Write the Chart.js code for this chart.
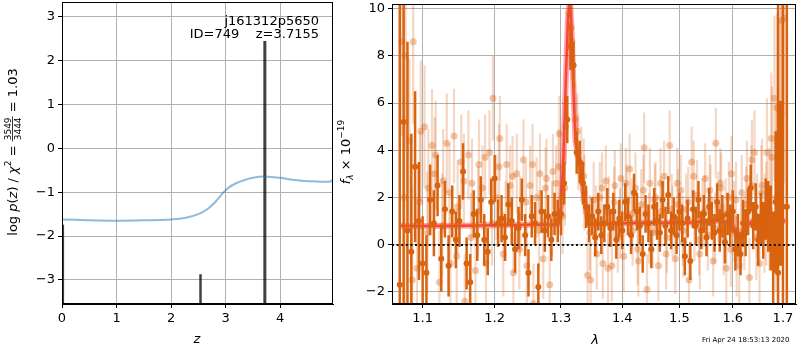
<!DOCTYPE html>
<html>
<head>
<meta charset="utf-8">
<script src="https://cdn.jsdelivr.net/npm/chart.js@4.4.0/dist/chart.umd.min.js"></script>
<style>
  body { margin: 0; background: #fff; width: 800px; height: 350px; position: relative; overflow: hidden; }
  #pzChart { position: absolute; left: 0; top: 0; }
  #specChart { position: absolute; left: 330px; top: 0; }
</style>
</head>
<body>
<canvas id="pzChart" width="340" height="350"></canvas>
<canvas id="specChart" width="470" height="350"></canvas>

<script>
// redshift probability curve
const zGrid  = [0, 0.25, 0.5, 1, 1.5, 2, 2.25, 2.5, 2.65, 2.8, 2.95, 3.05, 3.2, 3.35, 3.5, 3.7, 3.85, 4, 4.2, 4.4, 4.6, 4.8, 4.9, 4.97];
const logPz  = [-1.62, -1.63, -1.64, -1.65, -1.64, -1.62, -1.59, -1.5, -1.4, -1.24, -1.02, -0.9, -0.79, -0.72, -0.67, -0.64, -0.65, -0.67, -0.71, -0.74, -0.75, -0.76, -0.76, -0.72];
// individual fit peaks
const peakZ   = [0.02, 2.54, 3.72];
const peakTop = [-1.74, -2.87, 2.45];
const peakWidth = [2, 2.5, 3];

const zTicks  = [0, 1, 2, 3, 4];
const pzTicks = [-3, -2, -1, 0, 1, 2, 3];

// 1D spectrum, binned
const lamDark = [1.070,1.075,1.080,1.085,1.090,1.095,1.100,1.105,1.110,1.115,1.120,1.125,1.130,1.135,1.140,1.145,1.150,1.155,1.160,1.165,1.170,1.175,1.180,1.185,1.190,1.195,
  1.200,1.205,1.210,1.215,1.220,1.225,1.230,1.235,1.240,1.245,1.250,1.255,1.260,1.265,1.270,1.275,1.280,1.285,1.290,1.295,
  1.300,1.305,1.310,1.315,1.320,1.325,1.330,1.335,1.340,1.345,1.350,1.355,1.360,1.365,1.370,1.375,1.380,1.385,1.390,1.395,
  1.400,1.405,1.410,1.415,1.420,1.425,1.430,1.435,1.440,1.445,1.450,1.455,1.460,1.465,1.470,1.475,1.480,1.485,1.490,1.495,
  1.500,1.505,1.510,1.515,1.520,1.525,1.530,1.535,1.540,1.545,1.550,1.555,1.560,1.565,1.570,1.575,1.580,1.585,1.590,1.595,
  1.600,1.605,1.610,1.615,1.620,1.625,1.630,1.635,1.640,1.645,1.650,1.655,1.660,1.665,1.670,1.675,1.680,1.685,1.690,1.695,1.700,1.708];
const fluxDark = [-1.7,5.2,0.6,-0.3,3.3,1.0,-0.8,-1.2,1.9,0.9,2.5,-0.6,1.5,-0.9,1.4,0.2,1.0,3.1,-0.8,-1.6,1.3,0.4,1.9,0.2,-0.3,1.8,
  2.8,0.9,1.1,0.3,1.7,1.0,-0.2,0.7,1.9,0.4,-1.2,1.2,0.9,-1.8,1.4,0.6,1.2,0.2,1.3,1.0,
  1.3,2.6,5.3,8.4,7.6,3.9,3.5,2.6,1.6,0.9,1.2,0.3,1.4,0.4,0.9,1.6,0.7,1.4,0.2,1.1,
  0.6,1.8,1.2,0.4,2.2,1.4,0.8,-0.4,1.3,0.9,-0.2,1.6,1.0,0.5,1.9,0.8,2.1,0.6,1.2,0.4,
  1.4,0.9,-0.5,1.1,-0.7,1.5,0.8,1.9,0.6,1.3,0.3,1.6,1.0,0.5,1.8,0.6,1.2,0.1,1.3,0.8,
  1.4,-0.2,0.4,-0.4,0.9,0.5,1.4,2.4,0.8,1.6,0.2,1.1,0.6,1.5,1.2,0.7,-0.8,1.8,-1.2,2.6,1.6,1.6];
const errDark = [12,10,8,5,3.2,2.5,2,1.6,1.5,1.4,1.3,1.4,1.2,1.3,1.1,1.2,1.1,1.2,1.1,1.2,1.0,1.1,1.0,1.1,1.0,1.0,
  1.0,1.0,1.0,1.0,0.9,1.0,1.0,0.9,0.9,0.9,1.0,0.9,0.9,1.0,0.9,0.9,0.9,0.9,0.9,0.9,
  0.9,0.9,1.0,1.0,1.0,0.9,0.9,0.9,0.9,0.8,0.8,0.8,0.8,0.8,0.8,0.8,0.8,0.8,0.8,0.8,
  0.8,0.8,0.8,0.8,0.8,0.8,0.8,0.8,0.8,0.8,0.8,0.8,0.8,0.8,0.8,0.8,0.8,0.8,0.8,0.8,
  0.8,0.8,0.8,0.8,0.8,0.8,0.8,0.8,0.8,0.8,0.8,0.8,0.8,0.8,0.8,0.9,0.9,0.9,0.9,0.9,
  0.9,0.9,0.9,0.9,1.0,1.0,1.0,1.0,1.0,1.0,1.1,1.1,1.2,1.3,1.5,1.8,2.2,3,12,3.5,12,12];

// 1D spectrum, unbinned
const lamLight = [1.0725,1.0775,1.0825,1.0875,1.0925,1.0975,1.1025,1.1075,1.1125,1.1175,1.1225,1.1275,1.1325,1.1375,1.1425,1.1475,1.1525,1.1575,1.1625,1.1675,1.1725,1.1775,1.1825,1.1875,1.1925,1.1975,
  1.2025,1.2075,1.2125,1.2175,1.2225,1.2275,1.2325,1.2375,1.2425,1.2475,1.2525,1.2575,1.2625,1.2675,1.2725,1.2775,1.2825,1.2875,1.2925,1.2975,
  1.3025,1.3075,1.3125,1.3175,1.3225,1.3275,1.3325,1.3375,1.3425,1.3475,1.3525,1.3575,1.3625,1.3675,1.3725,1.3775,1.3825,1.3875,1.3925,1.3975,
  1.4025,1.4075,1.4125,1.4175,1.4225,1.4275,1.4325,1.4375,1.4425,1.4475,1.4525,1.4575,1.4625,1.4675,1.4725,1.4775,1.4825,1.4875,1.4925,1.4975,
  1.5025,1.5075,1.5125,1.5175,1.5225,1.5275,1.5325,1.5375,1.5425,1.5475,1.5525,1.5575,1.5625,1.5675,1.5725,1.5775,1.5825,1.5875,1.5925,1.5975,
  1.6025,1.6075,1.6125,1.6175,1.6225,1.6275,1.6325,1.6375,1.6425,1.6475,1.6525,1.6575,1.6625,1.6675,1.6725,1.6775,1.6825,1.6875,1.6925,1.6975,1.7025];
const fluxLight = [8.6,8.0,4.4,8.6,-1.0,4.8,5.0,2.4,4.2,3.8,-1.6,2.7,4.3,-0.8,4.6,1.6,3.5,-2.4,3.8,2.6,-1.1,3.4,2.4,-0.8,3.9,6.2,
  2.0,4.5,-0.4,3.4,2.5,-1.2,3.0,1.2,3.6,-0.9,2.5,-2.5,2.0,3.0,-0.6,2.8,-1.7,3.1,2.6,4.7,
  1.2,5.0,9.8,8.6,5.3,3.9,3.4,2.2,-1.3,-1.5,1.9,-0.4,2.0,-0.8,2.7,1.4,-0.9,2.5,0.3,2.8,
  -0.5,1.9,3.2,0.6,2.4,-0.7,1.7,4.1,-1.9,2.6,0.5,2.0,-0.9,1.4,2.9,0.3,4.2,1.0,-0.6,1.7,
  2.3,0.1,1.5,-1.5,3.5,0.8,2.1,-0.4,1.3,2.8,0.4,1.9,-0.7,4.3,1.6,2.4,0.2,-1.0,2.0,3.0,
  1.1,-0.6,-0.9,2.2,0.5,2.8,-1.4,3.6,3.9,1.2,-0.8,2.5,0.9,3.9,1.5,3.7,6.2,5.8,4.5,9.5,9.6];
const errLight = [4,4,3.5,3.5,3,3,2.6,2.5,2.4,2.3,2.2,2.2,2.1,2.1,2.0,2.0,2.0,2.0,1.9,1.9,1.9,1.9,1.8,1.8,1.8,1.8,
  1.8,1.8,1.8,1.7,1.7,1.7,1.7,1.7,1.7,1.7,1.7,1.7,1.7,1.7,1.7,1.7,1.7,1.6,1.6,1.6,
  1.6,1.6,1.6,1.6,1.6,1.6,1.6,1.6,1.6,1.6,1.6,1.5,1.5,1.5,1.5,1.5,1.5,1.5,1.5,1.5,
  1.5,1.5,1.5,1.5,1.5,1.5,1.5,1.5,1.5,1.5,1.5,1.5,1.5,1.5,1.5,1.5,1.5,1.5,1.5,1.5,
  1.5,1.5,1.5,1.5,1.5,1.5,1.5,1.5,1.5,1.5,1.5,1.5,1.5,1.5,1.5,1.5,1.5,1.5,1.5,1.6,
  1.6,1.6,1.6,1.6,1.6,1.6,1.7,1.7,1.8,1.8,1.9,2.0,2.1,2.3,2.6,3,3.5,4,5,6,7];

// second beam, unbinned
const lamLightB = [1.0762,1.0862,1.0962,1.1062,1.1162,1.1262,1.1362,1.1462,1.1562,1.1662,1.1762,1.1862,1.1962,1.2062,1.2162,1.2262,1.2362,1.2462,1.2562,1.2662,1.2762,
  1.2862,1.2962,1.3062,1.3162,1.3262,1.3362,1.3462,1.3562,1.3662,1.3762,1.3862,1.3962,1.4062,1.4162,1.4262,1.4362,1.4462,1.4562,1.4662,1.4762,1.4862,
  1.4962,1.5062,1.5162,1.5262,1.5362,1.5462,1.5562,1.5662,1.5762,1.5862,1.5962,1.6062,1.6162,1.6262,1.6362,1.6462,1.6562,1.6662,1.6762,1.6862,1.6962];
const fluxLightB = [2.0,-1.5,1.8,0.5,3.0,0.8,2.2,-0.5,2.7,0.3,1.4,3.7,0.9,3.3,1.0,2.9,-0.2,1.8,3.4,0.6,2.4,
  1.1,3.3,2.4,9.2,4.8,2.9,0.5,1.0,2.4,-1.0,1.8,0.9,2.6,1.3,-0.2,2.3,0.7,1.9,2.6,-0.4,1.5,
  2.6,0.6,1.8,2.9,0.2,1.4,2.3,0.7,2.6,1.3,-0.2,1.9,0.4,1.7,2.5,0.3,2.2,1.3,4.5,2.0,5.6];
const errLightB = [5,4,3,2.6,2.4,2.2,2.1,2.0,2.0,1.9,1.9,1.8,1.8,1.8,1.7,1.7,1.7,1.7,1.7,1.7,1.7,
  1.6,1.6,1.6,1.6,1.6,1.6,1.6,1.5,1.5,1.5,1.5,1.5,1.5,1.5,1.5,1.5,1.5,1.5,1.5,1.5,1.5,
  1.5,1.5,1.5,1.5,1.5,1.5,1.5,1.5,1.5,1.5,1.6,1.6,1.6,1.6,1.7,1.8,2.0,2.2,2.8,4,6];

// best-fit model
const lamModel  = [1.070,1.100,1.150,1.200,1.250,1.290,1.296,1.300,1.304,1.308,1.311,1.314,1.317,1.320,1.323,1.326,1.330,1.334,1.338,1.342,1.346,1.350,1.400,1.450,1.500,1.520,1.540,1.560,1.575,1.585,1.595,1.600,1.605,1.610,1.615,1.620,1.630,1.640,1.650,1.670,1.690,1.705];
const fluxModel = [0.8,0.79,0.8,0.82,0.84,0.85,0.87,1.6,3.8,7.2,9.5,10.5,9.0,6.5,4.4,4.0,3.4,2.6,1.9,1.2,0.85,0.86,0.9,0.92,0.93,0.94,0.98,1.0,1.02,0.98,0.95,0.85,0.5,0.27,0.35,0.6,0.85,1.02,1.05,1.04,1.0,1.0];

const lamTicks  = [1.1, 1.2, 1.3, 1.4, 1.5, 1.6, 1.7];
const fluxTicks = [-2, 0, 2, 4, 6, 8, 10];

Chart.defaults.font.family = '"DejaVu Sans", sans-serif';
Chart.defaults.font.size = 13;
Chart.defaults.color = '#000';
Chart.defaults.animation = false;

const ORANGE = 'rgb(217,100,16)';
const ORANGE_LIGHT = 'rgba(217,95,14,0.25)';
const ORANGE_DOT = 'rgba(217,95,14,0.35)';
const minus = v => String(v).replace('-', '\u2212');

function xy(xs, ys) {
    return xs.map((x, i) => ({ x: x, y: ys[i] }));
}

// vertical error segments, separated by gaps
function errorSegments(xs, ys, es) {
    const pts = [];
    xs.forEach((x, i) => {
        pts.push({ x: x, y: ys[i] - es[i] }, { x: x, y: ys[i] + es[i] }, { x: x, y: null });
    });
    return pts;
}

function axis(min, max, ticks, extra) {
    return Object.assign({
        min: min,
        max: max,
        bounds: 'data',
        afterBuildTicks: s => { s.ticks = ticks.map(v => ({ value: v })); },
        grid: { color: '#b0b0b0', lineWidth: 1, tickColor: '#000', tickLength: 4 },
        border: { display: true, color: '#000', width: 1 },
        ticks: { autoSkip: false, maxRotation: 0, padding: 3, callback: v => minus(v) }
    }, extra);
}

// rotated label made of styled pieces, centred on cy with baseline at baseX
function drawParts(ctx, parts, baseX, cy) {
    ctx.save();
    ctx.translate(baseX, cy);
    ctx.rotate(-Math.PI / 2);
    ctx.fillStyle = '#000';
    ctx.textBaseline = 'alphabetic';
    let total = 0;
    parts.forEach(p => {
        ctx.font = p.font;
        p.w = p.frac ? Math.max(ctx.measureText(p.frac[0]).width, ctx.measureText(p.frac[1]).width) + 2 : ctx.measureText(p.t).width;
        total += p.w;
    });
    let x = -total / 2;
    parts.forEach(p => {
        ctx.font = p.font;
        if (p.frac) {
            ctx.textAlign = 'center';
            ctx.fillText(p.frac[0], x + p.w / 2, -6);
            ctx.fillText(p.frac[1], x + p.w / 2, 4.5);
            ctx.fillRect(x, -4.4, p.w, 0.8);
            ctx.textAlign = 'left';
        } else {
            ctx.textAlign = 'left';
            ctx.fillText(p.t, x, p.dy || 0);
        }
        x += p.w;
    });
    ctx.restore();
}

const N = '13px "DejaVu Sans"';
const I = 'italic 13px "DejaVu Sans"';
const S = '9px "DejaVu Sans"';
const SI = 'italic 9px "DejaVu Sans"';

const frame = {
    id: 'frame',
    afterDraw(chart) {
        const a = chart.chartArea, ctx = chart.ctx;
        ctx.save();
        ctx.strokeStyle = '#000';
        ctx.lineWidth = 1;
        ctx.strokeRect(Math.round(a.left) + 0.5, Math.round(a.top) + 0.5, Math.round(a.right - a.left) - 1, Math.round(a.bottom - a.top) - 1);
        ctx.restore();
    }
};

const pzLabels = {
    id: 'pzLabels',
    afterDraw(chart) {
        const ctx = chart.ctx;
        drawParts(ctx, [
            { t: 'log ', font: N }, { t: 'p', font: I }, { t: '(', font: N }, { t: 'z', font: I },
            { t: ') / ', font: N }, { t: '\u03c7', font: I }, { t: '2', font: S, dy: -6 },
            { t: ' = ', font: N }, { frac: ['3549', '3444'], font: S }, { t: ' = 1.03', font: N }
        ], 16.5, 152);
        ctx.save();
        ctx.fillStyle = '#000';
        ctx.font = N;
        ctx.textAlign = 'right';
        ctx.fillText('j161312p5650', 319, 24.5);
        ctx.fillText('ID=749    z=3.7155', 319, 38);
        ctx.font = I;
        ctx.textAlign = 'center';
        ctx.fillText('z', 197, 343);
        ctx.restore();
    }
};

const specLabels = {
    id: 'specLabels',
    afterDatasetsDraw(chart) {
        // zero level
        const ctx = chart.ctx, a = chart.chartArea;
        const y0 = Math.round(chart.scales.y.getPixelForValue(0));
        ctx.save();
        ctx.beginPath();
        ctx.rect(a.left, a.top, a.right - a.left, a.bottom - a.top);
        ctx.clip();
        ctx.strokeStyle = '#111';
        ctx.lineWidth = 2;
        ctx.setLineDash([2, 2.6]);
        ctx.beginPath();
        ctx.moveTo(a.left, y0);
        ctx.lineTo(a.right, y0);
        ctx.stroke();
        ctx.restore();
    },
    afterDraw(chart) {
        const ctx = chart.ctx;
        drawParts(ctx, [
            { t: 'f', font: I }, { t: '\u03bb', font: SI, dy: 3 },
            { t: ' \u00d7 10', font: N }, { t: '\u221219', font: S, dy: -6 }
        ], 19.5, 152);
        ctx.save();
        ctx.fillStyle = '#000';
        ctx.font = I;
        ctx.textAlign = 'center';
        ctx.fillText('\u03bb', 265, 344);
        ctx.font = '7px "DejaVu Sans"';
        ctx.textAlign = 'left';
        ctx.fillText('Fri Apr 24 18:53:13 2020', 372, 342);
        ctx.restore();
    }
};

// fixed axis boxes so the plot areas sit where they should
const fixY = s => { s.width = 62; s.paddingTop = 0; s.paddingBottom = 0; };
const fixX = s => { s.height = 46; s.paddingLeft = 0; s.paddingRight = 0; };

new Chart(document.getElementById('pzChart'), {
    type: 'scatter',
    data: {
        datasets: [
            {
                data: xy(zGrid, logPz),
                showLine: true,
                borderColor: 'rgba(31,119,180,0.5)',
                borderWidth: 2,
                pointRadius: 0,
                cubicInterpolationMode: 'monotone',
                clip: 0
            }
        ].concat(peakZ.map((z, i) => ({
            data: [{ x: z, y: -4 }, { x: z, y: peakTop[i] }],
            showLine: true,
            borderColor: 'rgba(0,0,0,0.75)',
            borderWidth: peakWidth[i],
            borderCapStyle: 'butt',
            pointRadius: 0,
            clip: 0
        })))
    },
    options: {
        responsive: false,
        layout: { padding: { left: 0, right: 7, top: 2, bottom: 0 } },
        plugins: { legend: { display: false }, tooltip: { enabled: false } },
        scales: {
            x: axis(0, 4.97, zTicks, { afterFit: fixX }),
            y: axis(-3.55, 3.34, pzTicks, { afterFit: fixY })
        }
    },
    plugins: [frame, pzLabels]
});

const lightBars = (xs, ys, es) => ({
    data: errorSegments(xs, ys, es),
    showLine: true, borderColor: ORANGE_LIGHT, borderWidth: 2.2, borderCapStyle: 'butt',
    pointRadius: 0, clip: 0
});
const lightDots = (xs, ys) => ({
    data: xy(xs, ys),
    pointRadius: 3.5, pointBackgroundColor: ORANGE_DOT, pointBorderWidth: 0, clip: 0
});

new Chart(document.getElementById('specChart'), {
    type: 'scatter',
    data: {
        datasets: [
            lightBars(lamLight, fluxLight, errLight),
            lightBars(lamLightB, fluxLightB, errLightB),
            lightDots(lamLight, fluxLight),
            lightDots(lamLightB, fluxLightB),
            {
                data: errorSegments(lamDark, fluxDark, errDark),
                showLine: true, borderColor: ORANGE, borderWidth: 2.5, borderCapStyle: 'butt',
                pointRadius: 0, clip: 0
            },
            {
                data: xy(lamDark, fluxDark),
                pointRadius: 3, pointBackgroundColor: ORANGE, pointBorderWidth: 0, clip: 0
            },
            {
                data: xy(lamModel, fluxModel),
                showLine: true, borderColor: 'rgba(255,0,0,0.35)', borderWidth: 6, pointRadius: 0, clip: 0
            },
            {
                data: xy(lamModel, fluxModel),
                showLine: true, borderColor: 'rgba(255,20,0,0.65)', borderWidth: 2.5, pointRadius: 0, clip: 0
            }
        ]
    },
    options: {
        responsive: false,
        layout: { padding: { left: 0, right: 1, top: 2, bottom: 0 } },
        plugins: { legend: { display: false }, tooltip: { enabled: false } },
        scales: {
            x: axis(1.06, 1.727, lamTicks, {
                type: 'logarithmic',
                afterFit: fixX,
                ticks: { autoSkip: false, maxRotation: 0, padding: 3, callback: v => Number(v).toFixed(1) }
            }),
            y: axis(-2.52, 10.2, fluxTicks, { afterFit: fixY })
        }
    },
    plugins: [frame, specLabels]
});
</script>
</body>
</html>
